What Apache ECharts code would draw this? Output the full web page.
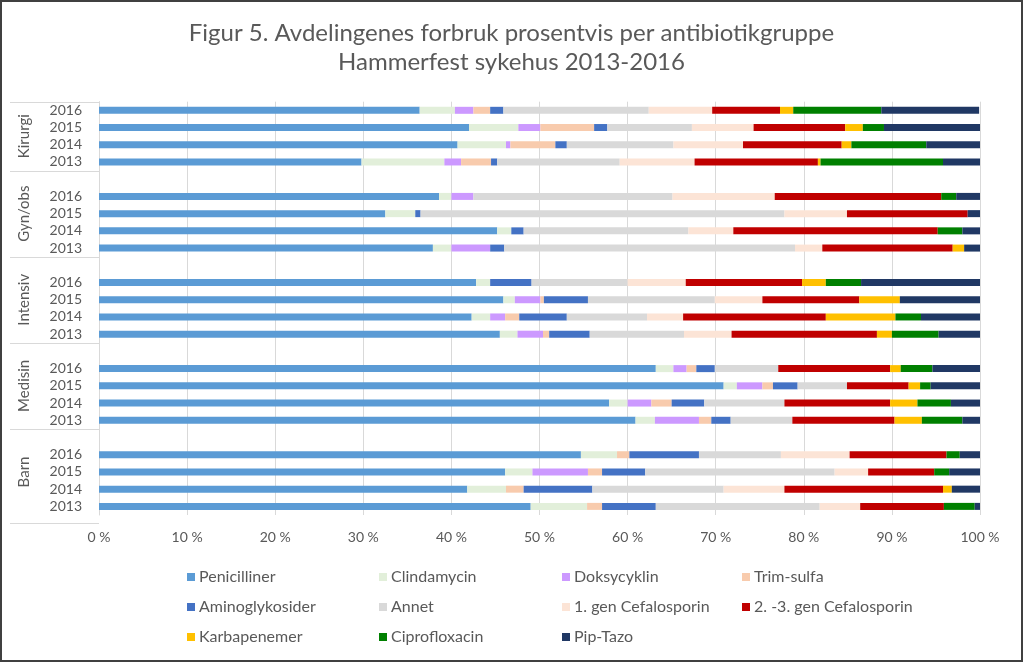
<!DOCTYPE html>
<html><head><meta charset="utf-8">
<script src="https://cdn.jsdelivr.net/npm/echarts@6/dist/echarts.min.js"></script>
<style>html,body{margin:0;padding:0;background:#fff}#c{width:1023px;height:662px}</style>
</head><body><div id="c"></div>
<script>
// ---- data ----
const groups = ['Kirurgi', 'Gyn/obs', 'Intensiv', 'Medisin', 'Barn'];
const years = ['2016', '2015', '2014', '2013'];
const seriesNames = ['Penicilliner', 'Clindamycin', 'Doksycyklin', 'Trim-sulfa', 'Aminoglykosider', 'Annet', '1. gen Cefalosporin', '2. -3. gen Cefalosporin', 'Karbapenemer', 'Ciprofloxacin', 'Pip-Tazo'];
// order: Kirurgi 2016..2013, Gyn/obs 2016..2013, Intensiv, Medisin, Barn
const penicilliner = [36.4, 42.0, 40.7, 29.8, 38.6, 32.5, 45.2, 37.9, 42.8, 45.9, 42.3, 45.5, 63.2, 70.9, 57.9, 60.9, 54.7, 46.1, 41.8, 49.0];
const clindamycin = [4.0, 5.6, 5.5, 9.4, 1.4, 3.4, 1.6, 2.1, 1.6, 1.3, 2.1, 2.0, 2.0, 1.5, 2.1, 2.2, 4.1, 3.1, 4.4, 6.4];
const doksycyklin = [2.1, 2.5, 0.5, 1.9, 2.5, 0, 0, 4.4, 0, 2.9, 1.7, 2.9, 1.5, 2.9, 2.7, 5.0, 0, 6.3, 0, 0];
const trimSulfa = [1.9, 6.1, 5.1, 3.4, 0, 0, 0, 0, 0, 0.4, 1.6, 0.7, 1.1, 1.2, 2.3, 1.4, 1.4, 1.6, 2.0, 1.7];
const aminoglykosider = [1.5, 1.5, 1.3, 0.7, 0, 0.6, 1.4, 1.6, 4.7, 5.0, 5.4, 4.6, 2.1, 2.8, 3.7, 2.2, 7.9, 4.9, 7.8, 6.1];
const annet = [16.5, 9.6, 12.1, 13.9, 22.6, 41.3, 18.7, 33.0, 10.9, 14.4, 9.1, 10.7, 7.2, 5.6, 9.1, 7.0, 9.3, 21.5, 14.9, 18.6];
const cef1 = [7.2, 7.0, 7.9, 8.5, 11.6, 7.1, 5.1, 3.1, 6.6, 5.4, 4.1, 5.4, 0, 0, 0, 0, 7.8, 3.8, 6.9, 4.6];
const cef23 = [7.7, 10.4, 11.2, 14.0, 18.9, 13.7, 23.2, 14.8, 13.2, 11.0, 16.2, 16.5, 12.7, 7.0, 12.0, 11.6, 11.0, 7.5, 18.0, 9.5];
const karbapenemer = [1.5, 2.0, 1.1, 0.3, 0, 0, 0, 1.3, 2.7, 4.6, 7.9, 1.7, 1.2, 1.3, 3.1, 3.1, 0, 0, 1.0, 0];
const ciprofloxacin = [10.0, 2.4, 8.5, 13.9, 1.7, 0, 2.8, 0, 4.0, 0, 2.9, 5.3, 3.6, 1.2, 3.8, 4.6, 1.5, 1.7, 0, 3.5];
const pipTazo = [11.1, 10.9, 6.1, 4.2, 2.7, 1.4, 2.0, 1.8, 13.5, 9.1, 6.7, 4.7, 5.4, 5.6, 3.3, 2.0, 2.3, 3.5, 3.2, 0.6];
const xTicks = [0, 10, 20, 30, 40, 50, 60, 70, 80, 90, 100];

// ---- build ----
const allValues = [penicilliner, clindamycin, doksycyklin, trimSulfa, aminoglykosider, annet, cef1, cef23, karbapenemer, ciprofloxacin, pipTazo];
const colors = ['#5B9BD5', '#E2EFDA', '#CC99FF', '#F8CBAD', '#4472C4', '#D9D9D9', '#FCE4D6', '#C00000', '#FFC000', '#008000', '#203864'];
const cats = [];
const groupStart = [];
groups.forEach((g, gi) => {
  if (gi > 0) cats.push('');
  groupStart.push(cats.length);
  years.forEach(y => cats.push(y));
});
function expand(arr) {
  const out = [];
  groups.forEach((g, gi) => {
    if (gi > 0) out.push(null);
    for (let k = 0; k < years.length; k++) out.push(arr[gi * years.length + k]);
  });
  return out;
}
const TXT = '#595959';
const FONT = 'Lato';
const colX = [182, 374, 557, 737];
const rowY = [573, 603, 633];
const legends = seriesNames.map((n, i) => ({
  data: [n], left: colX[i % 4], top: rowY[Math.floor(i / 4)] - 9,
  itemWidth: 8, itemHeight: 8, itemGap: 0, icon: 'rect',
  selectedMode: false,
  textStyle: { color: TXT, fontSize: 16, fontFamily: FONT, padding: [0, 0, 0, -1] }
}));
const series = seriesNames.map((n, i) => ({
  name: n, type: 'bar', stack: 'total', barWidth: 7,
  itemStyle: { color: colors[i] },
  data: expand(allValues[i])
}));
const chart = echarts.init(document.getElementById('c'), null, { renderer: 'canvas' });
chart.setOption({
  animation: false,
  backgroundColor: '#fff',
  title: {
    text: 'Figur 5. Avdelingenes forbruk prosentvis per antibiotikgruppe\nHammerfest sykehus 2013-2016',
    left: 'center', top: 14,
    textStyle: { color: TXT, fontSize: 24, fontWeight: 'normal', fontFamily: FONT, lineHeight: 29 }
  },
  legend: legends,
  grid: { left: 99, right: 43, top: 101.7, bottom: 147 },
  xAxis: {
    type: 'value', min: 0, max: 100, interval: 10,
    axisLine: { show: false }, axisTick: { show: false },
    splitLine: { lineStyle: { color: '#D9D9D9', width: 1 } },
    axisLabel: { color: TXT, fontSize: 14, fontFamily: FONT, margin: 15, formatter: v => xTicks.includes(v) ? v + ' %' : '' }
  },
  yAxis: {
    type: 'category', inverse: true, data: cats,
    axisLine: { show: true, lineStyle: { color: '#D9D9D9' } },
    axisTick: { show: false },
    axisLabel: { color: TXT, fontSize: 14, fontFamily: FONT, margin: 17, interval: 0 }
  },
  series: series
});
// group labels and separators, positioned from the category scale
const band = (chart.convertToPixel({ yAxisIndex: 0 }, 1) - chart.convertToPixel({ yAxisIndex: 0 }, 0));
const yOf = i => chart.convertToPixel({ yAxisIndex: 0 }, i);
const gfx = [];
const bounds = [yOf(0) - band / 2];
groups.forEach((g, gi) => {
  const s = groupStart[gi];
  const top = gi === 0 ? yOf(s) - band / 2 : yOf(s - 1) - band / 2;
  const bot = yOf(s + years.length - 1) + band / 2;
  bounds.push(bot);
  gfx.push({
    type: 'text', x: 24, y: (top + bot) / 2, rotation: Math.PI / 2,
    style: { text: g, fill: TXT, font: '15px ' + FONT, textAlign: 'center', textVerticalAlign: 'middle' }
  });
});
bounds[bounds.length - 1] += 8;
bounds.forEach(b => gfx.push({
  type: 'line', shape: { x1: 10, y1: Math.round(b) + 0.5, x2: 99, y2: Math.round(b) + 0.5 },
  style: { stroke: '#D9D9D9', lineWidth: 1 }
}));
gfx.push({ type: 'rect', shape: { x: 1, y: 1, width: 1021, height: 660 }, style: { fill: null, stroke: '#404040', lineWidth: 2 }, silent: true });
chart.setOption({ graphic: gfx });
</script>
</body></html>
